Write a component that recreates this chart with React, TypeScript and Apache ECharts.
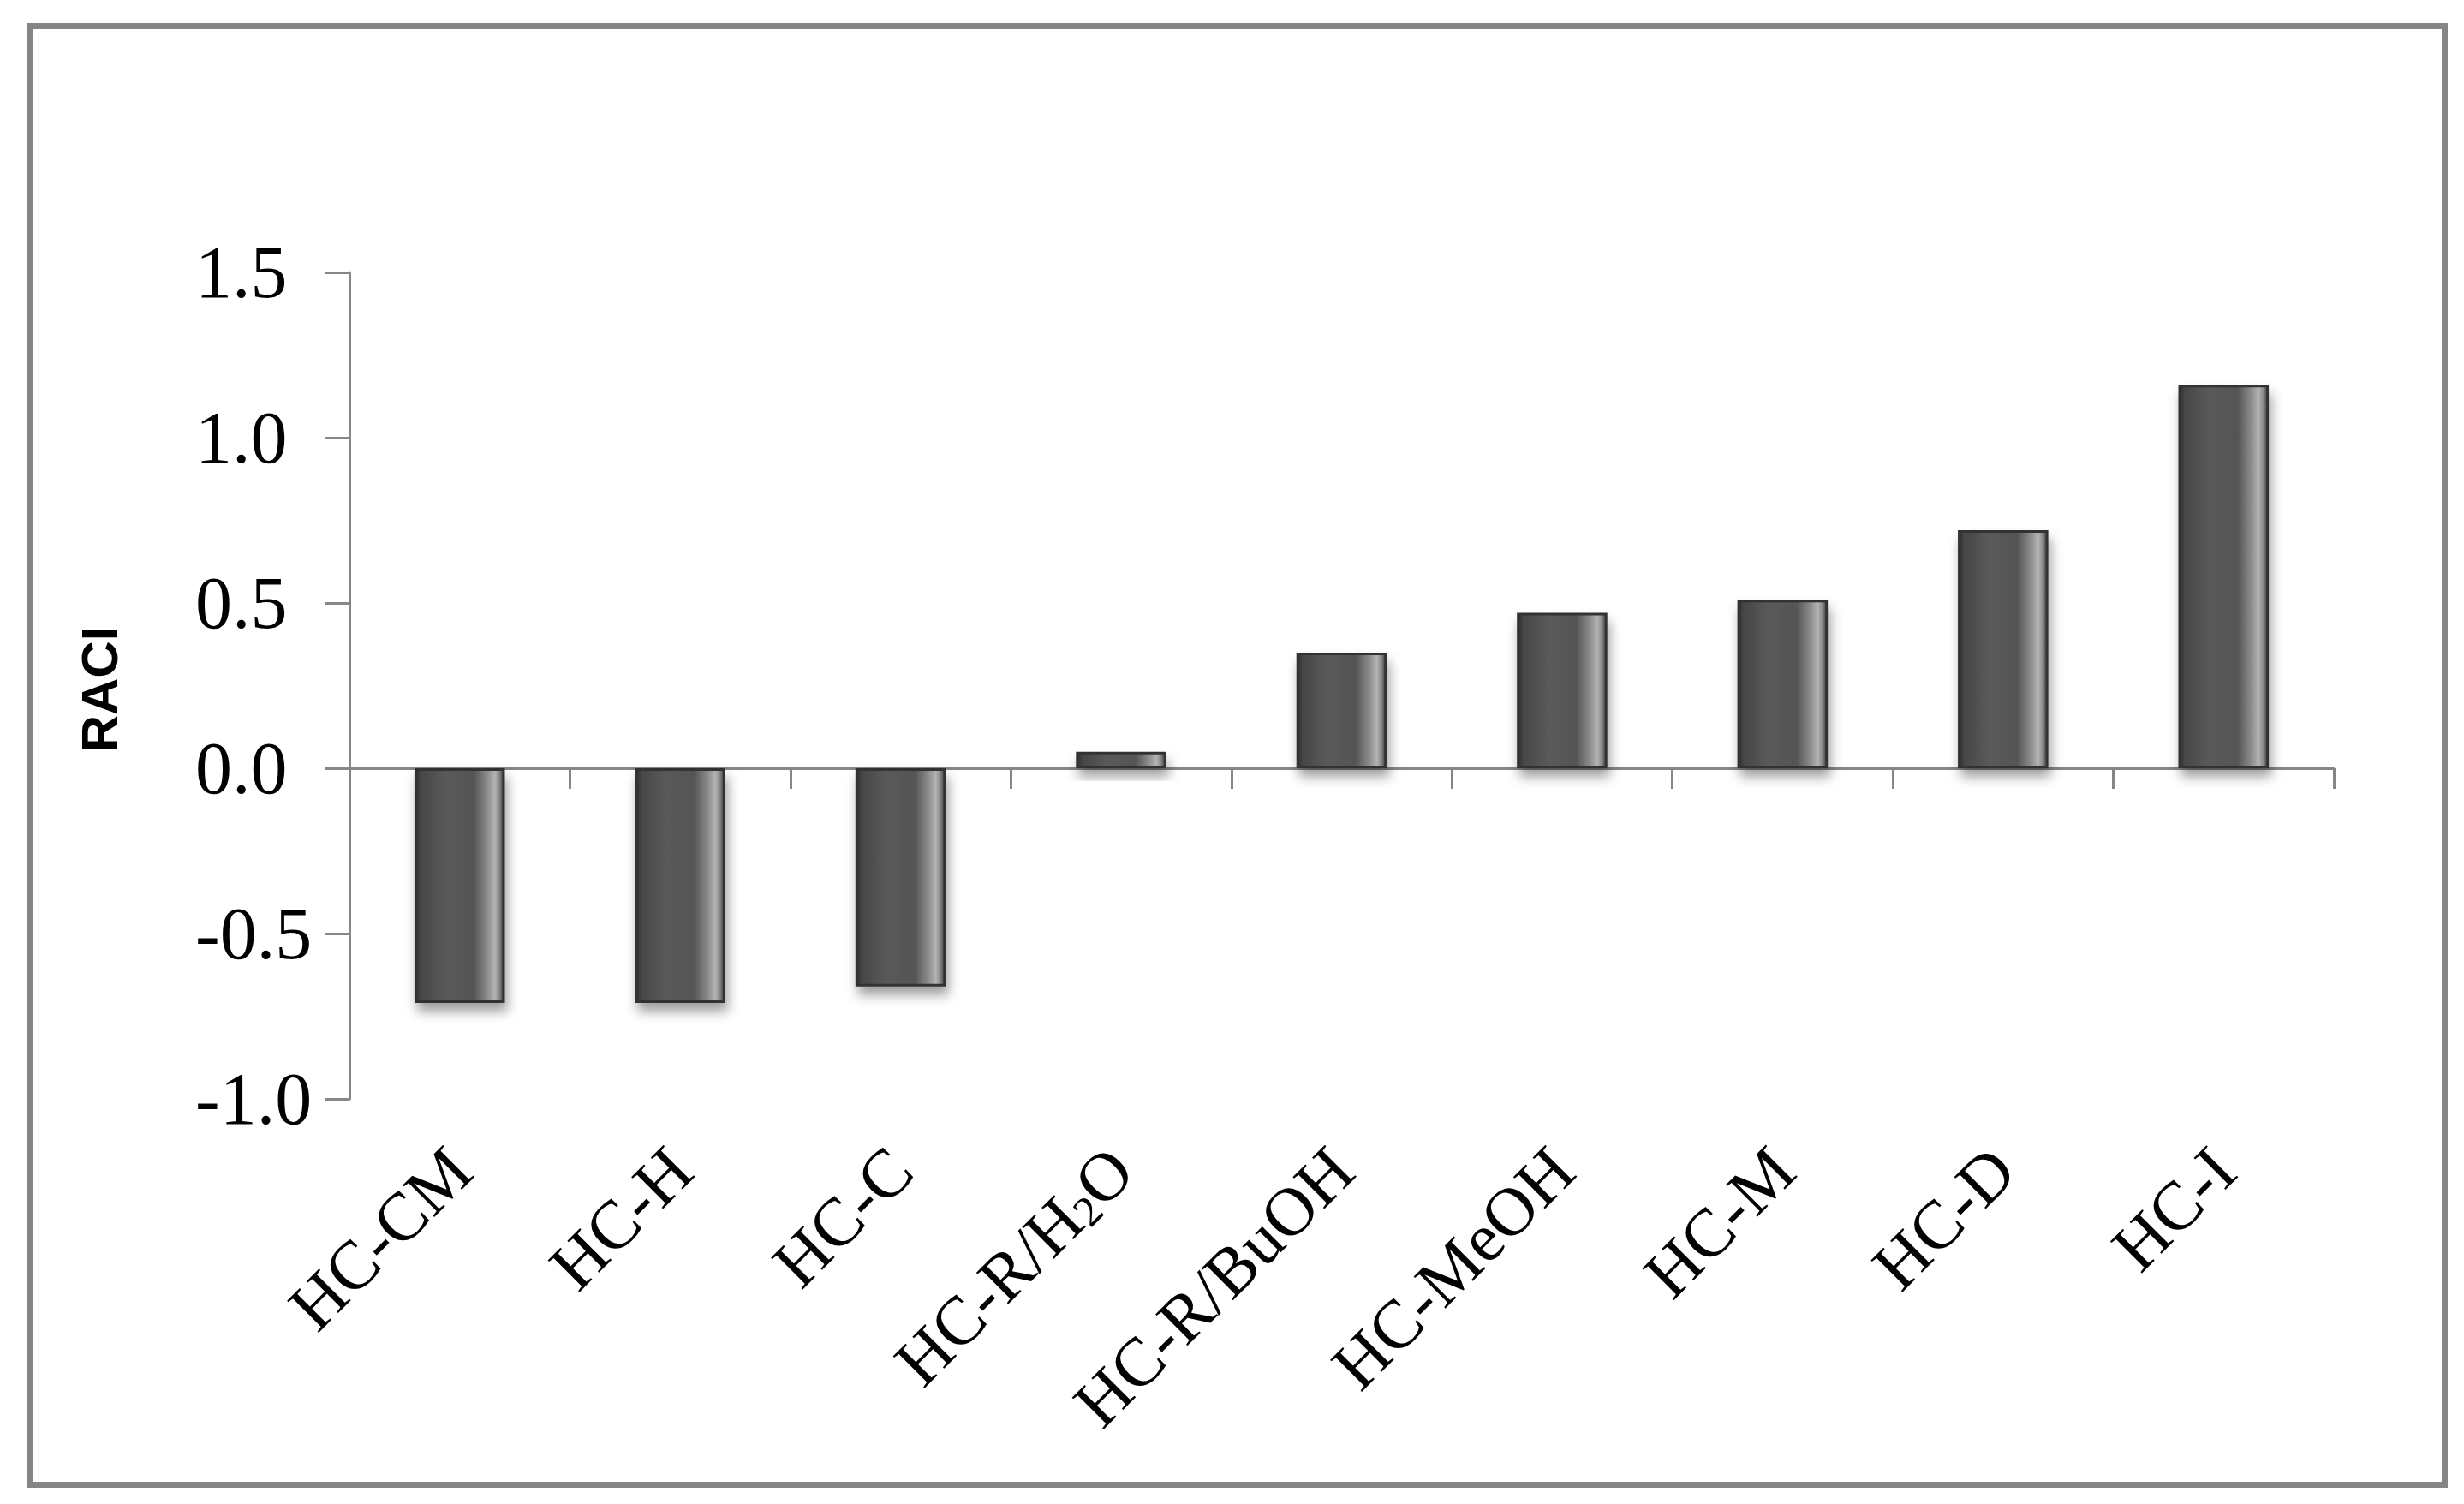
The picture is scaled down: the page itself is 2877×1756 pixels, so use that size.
import React, { useEffect, useRef } from "react";
import * as echarts from "echarts";

const categories = ["HC-CM", "HC-H", "HC-C", "HC-R/H2O", "HC-R/BuOH", "HC-MeOH", "HC-M", "HC-D", "HC-I"];
const values = [-0.71, -0.71, -0.66, 0.05, 0.35, 0.47, 0.51, 0.72, 1.16];
const yMin = -1.0;
const yMax = 1.5;
const yStep = 0.5;
const yTitle = "RACI";

const W = 2877;
const H = 1756;
const AXIS_GRAY = "#868686";

function formatCategory(name: string): string {
  if (name.indexOf("H2O") >= 0) {
    return name.replace("H2O", "H{sub|2}O");
  }
  return name;
}

export default function App() {
  const ref = useRef<HTMLDivElement>(null);

  useEffect(() => {
    if (!ref.current) return;
    const chart = echarts.init(ref.current, undefined, { renderer: "svg" });

    const barGradient = {
      type: "linear",
      x: 0,
      y: 0,
      x2: 1,
      y2: 0,
      colorStops: [
        { offset: 0, color: "#2f2f2f" },
        { offset: 0.06, color: "#474747" },
        { offset: 0.35, color: "#5a5a5a" },
        { offset: 0.66, color: "#545454" },
        { offset: 0.72, color: "#6a6a6a" },
        { offset: 0.82, color: "#8e8e8e" },
        { offset: 0.9, color: "#b4b4b4" },
        { offset: 0.95, color: "#8a8a8a" },
        { offset: 1, color: "#404040" },
      ],
    };

    chart.setOption({
      animation: false,
      backgroundColor: "#ffffff",
      grid: { left: 408, right: W - 2725, top: 318, bottom: H - 1283, containLabel: false },
      xAxis: [
        {
          type: "category",
          data: categories,
          position: "bottom",
          boundaryGap: true,
          axisLine: { show: true, onZero: true, lineStyle: { color: AXIS_GRAY, width: 3 } },
          axisTick: { show: true, inside: false, length: 24, interval: 0, alignWithLabel: false, lineStyle: { color: AXIS_GRAY, width: 3 } },
          axisLabel: { show: false },
          splitLine: { show: false },
        },
        {
          type: "category",
          data: categories,
          position: "bottom",
          boundaryGap: true,
          axisLine: { show: false, onZero: false },
          axisTick: { show: false },
          splitLine: { show: false },
          axisLabel: {
            show: true,
            interval: 0,
            rotate: 45,
            margin: 70,
            color: "#000",
            fontFamily: "Liberation Serif",
            fontSize: 80,
            formatter: (v: string) => formatCategory(v),
            rich: {
              sub: {
                fontFamily: "Liberation Serif",
                fontSize: 50,
                color: "#000",
                verticalAlign: "bottom",
                lineHeight: 28,
              },
            },
          },
        },
      ],
      yAxis: {
        type: "value",
        min: yMin,
        max: yMax,
        interval: yStep,
        axisLine: { show: true, lineStyle: { color: AXIS_GRAY, width: 3 } },
        axisTick: { show: true, inside: false, length: 28, lineStyle: { color: AXIS_GRAY, width: 3 } },
        splitLine: { show: false },
        axisLabel: {
          show: true,
          align: "left",
          margin: 180,
          color: "#000",
          fontFamily: "Liberation Serif",
          fontSize: 86,
          formatter: (v: number) => v.toFixed(1),
        },
      },
      series: [
        {
          type: "bar",
          xAxisIndex: 0,
          data: values,
          barWidth: "41%",
          itemStyle: {
            color: barGradient,
            borderColor: "#333333",
            borderWidth: 3,
            shadowColor: "rgba(0,0,0,0.38)",
            shadowBlur: 14,
            shadowOffsetX: 3,
            shadowOffsetY: 10,
          },
        },
      ],
      graphic: [
        {
          type: "rect",
          shape: { x: 34.5, y: 30.5, width: 2820, height: 1703 },
          style: { fill: "none", stroke: AXIS_GRAY, lineWidth: 7 },
          silent: true,
        },
        {
          type: "text",
          x: 116,
          y: 805,
          rotation: Math.PI / 2,
          style: {
            text: yTitle,
            font: "bold 60px 'Liberation Sans'",
            fill: "#000",
            align: "center",
            verticalAlign: "middle",
          },
        },
      ],
    });

    return () => {
      chart.dispose();
    };
  }, []);

  return (
    <div
      ref={ref}
      style={{ position: "fixed", left: 0, top: 0, width: W, height: H, background: "#fff" }}
    />
  );
}
